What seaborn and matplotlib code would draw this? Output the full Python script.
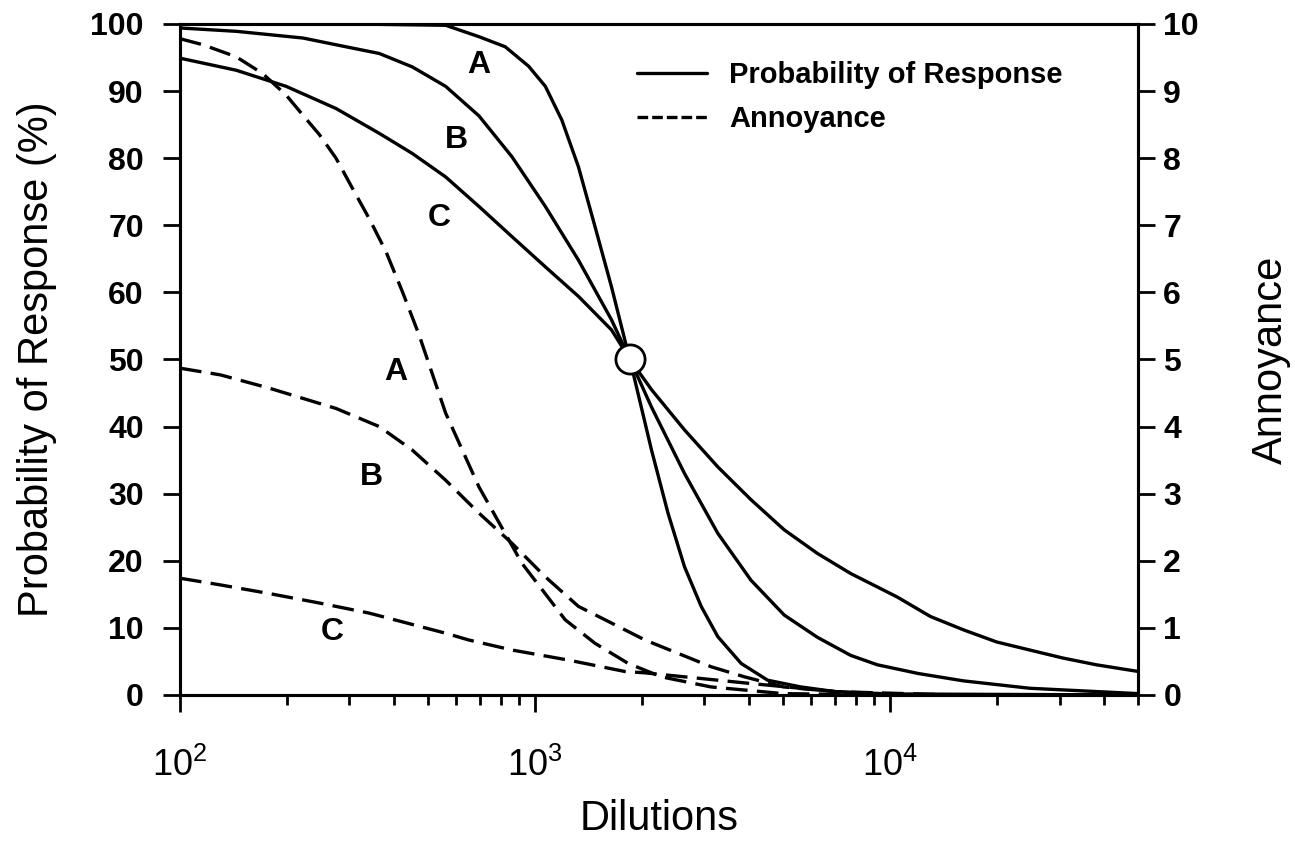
import numpy as np
import pandas as pd
import matplotlib
matplotlib.use("Agg")
import matplotlib.pyplot as plt
from matplotlib.lines import Line2D
from matplotlib.ticker import LogLocator, NullFormatter, FixedLocator
import seaborn as sns

# ---------------- data ----------------
resp_a_x = [100, 300, 560, 695, 824, 959, 1069, 1189, 1325, 1475, 1642, 1790, 1850,
            2128, 2368, 2636, 2937, 3270, 3805, 4518, 5600, 7000, 10000, 50000]
resp_a_y = [100, 100, 99.8, 98.1, 96.6, 93.7, 90.7, 85.7, 78.7, 69.8, 60.8, 52.9, 50,
            36.5, 27.1, 19.1, 13.2, 8.7, 4.7, 2.2, 1.2, 0.5, 0.15, 0]

resp_b_x = [100, 144, 222, 306, 364, 451, 560, 695, 861, 1069, 1325, 1642, 1850,
            2128, 2636, 3270, 4056, 5034, 6237, 7743, 9200, 12000, 16100, 24720, 50000]
resp_b_y = [99.4, 98.9, 97.9, 96.4, 95.6, 93.6, 90.7, 86.3, 80.2, 72.8, 64.8, 55.9, 50,
            42.9, 33.0, 24.1, 17.1, 11.9, 8.6, 5.9, 4.5, 3.2, 2.1, 1.0, 0.2]

resp_c_x = [100, 144, 199, 275, 364, 451, 560, 695, 861, 1069, 1325, 1642, 1850,
            2128, 2636, 3270, 4056, 5034, 6237, 7743, 9200, 10470, 12980, 16100, 19950,
            24720, 30690, 38070, 50000]
resp_c_y = [94.9, 93.1, 90.7, 87.4, 83.7, 80.7, 77.2, 72.8, 68.3, 63.8, 59.4, 54.4, 50,
            45.5, 39.5, 34.0, 29.1, 24.6, 21.1, 18.1, 16.1, 14.6, 11.7, 9.7, 7.9,
            6.7, 5.5, 4.5, 3.5]

ann_a_x = [100, 116, 144, 171, 199, 222, 247, 275, 306, 341, 380, 423, 471, 560, 695, 919,
           1216, 1475, 1829, 2269, 3128, 5000, 10000, 50000]
ann_a_y = [9.78, 9.69, 9.51, 9.26, 8.94, 8.64, 8.35, 8.00, 7.55, 7.10, 6.61, 6.01, 5.37, 4.20, 3.10, 1.96,
           1.12, 0.77, 0.47, 0.27, 0.12, 0.02, 0, 0]

ann_b_x = [100, 130, 179, 275, 364, 451, 560, 695, 861, 1069, 1325, 1644, 2038, 2528, 3135, 3890,
           5000, 7000, 10000, 50000]
ann_b_y = [4.87, 4.77, 4.57, 4.27, 4.00, 3.65, 3.20, 2.71, 2.26, 1.76, 1.32, 1.07, 0.82, 0.62, 0.42, 0.27,
           0.12, 0.05, 0, 0]

ann_c_x = [100, 130, 179, 247, 341, 560, 650, 861, 1241, 1790, 2036, 3890, 7000, 15000, 50000]
ann_c_y = [1.74, 1.64, 1.51, 1.37, 1.22, 0.92, 0.82, 0.67, 0.52, 0.35, 0.33, 0.18, 0.05, 0, 0]

midpoint_x = [1850]
midpoint_y = [50]

curve_names = ["A", "B", "C"]
resp_label_pos = [(694, 93.9), (602, 82.7), (536, 71.1)]
ann_label_pos = [(406, 4.81), (346, 3.25), (268, 0.94)]

left_ticks = list(range(0, 101, 10))
right_ticks = list(range(0, 11, 1))
x_major = [100, 1000, 10000]
x_major_labels = ["10$^2$", "10$^3$", "10$^4$"]

legend_labels = ["Probability of Response", "Annoyance"]

# ---------------- styling ----------------
sns.set_style("ticks")
plt.rcParams["font.family"] = ["Liberation Sans", "DejaVu Sans"]
plt.rcParams["mathtext.fontset"] = "custom"
plt.rcParams["mathtext.rm"] = "Liberation Sans"
plt.rcParams["mathtext.default"] = "regular"
plt.rcParams["text.color"] = "black"
plt.rcParams["axes.labelcolor"] = "black"
plt.rcParams["xtick.color"] = "black"
plt.rcParams["ytick.color"] = "black"

resp_df = pd.concat([
    pd.DataFrame({"dilution": xs, "value": ys, "curve": n})
    for n, xs, ys in zip(curve_names, [resp_a_x, resp_b_x, resp_c_x], [resp_a_y, resp_b_y, resp_c_y])
], ignore_index=True)
ann_df = pd.concat([
    pd.DataFrame({"dilution": xs, "value": ys, "curve": n})
    for n, xs, ys in zip(curve_names, [ann_a_x, ann_b_x, ann_c_x], [ann_a_y, ann_b_y, ann_c_y])
], ignore_index=True)

fig = plt.figure(figsize=(12.95, 8.43), dpi=100)
ax = fig.add_axes([0.139, 0.1756, 0.740, 0.796])
ax.set_xscale("log")
ax2 = ax.twinx()

LW = 2.4
sns.lineplot(data=resp_df, x="dilution", y="value", units="curve", estimator=None, sort=False,
             color="black", linewidth=LW, ax=ax, legend=False)
sns.lineplot(data=ann_df, x="dilution", y="value", units="curve", estimator=None, sort=False,
             color="black", linewidth=LW, ax=ax2, legend=False)
for ln in ax.get_lines():
    ln.set_solid_joinstyle("round")
for ln in ax2.get_lines():
    ln.set_dashes((6.5, 2.8))

ax.plot(midpoint_x, midpoint_y, "o", ms=21, mfc="white", mec="black", mew=2, zorder=10, clip_on=False)

for n, (lx, ly) in zip(curve_names, resp_label_pos):
    ax.text(lx, ly, n, fontsize=23, fontweight="bold", ha="center", va="center", color="black")
for n, (lx, ly) in zip(curve_names, ann_label_pos):
    ax2.text(lx, ly, n, fontsize=23, fontweight="bold", ha="center", va="center", color="black")

ax.set_xlim(100, 50000)
ax.set_ylim(0, 100)
ax2.set_ylim(0, 10)

ax.xaxis.set_major_locator(FixedLocator(x_major))
ax.set_xticklabels(x_major_labels, fontsize=26)
ax.xaxis.set_minor_locator(LogLocator(base=10, subs=np.arange(2, 10)))
ax.xaxis.set_minor_formatter(NullFormatter())

ax.set_yticks(left_ticks)
ax.set_yticklabels([str(t) for t in left_ticks], fontsize=23, fontweight="bold")
ax2.set_yticks(right_ticks)
ax2.set_yticklabels([str(t) for t in right_ticks], fontsize=23, fontweight="bold")

for a in (ax, ax2):
    for s in a.spines.values():
        s.set_visible(True)
        s.set_linewidth(2.2)
        s.set_color("black")
ax.tick_params(axis="x", which="major", direction="out", length=12, width=2, pad=26, colors="black")
ax.tick_params(axis="x", which="minor", direction="out", length=7, width=2, colors="black")
ax.tick_params(axis="y", which="major", direction="out", length=12, width=2, pad=14, colors="black")
ax2.tick_params(axis="y", which="major", direction="out", length=12, width=2, pad=6, colors="black")

ax.set_xlabel("Dilutions", fontsize=30, color="black")
ax.set_ylabel("Probability of Response (%)", fontsize=30, color="black")
ax2.set_ylabel("Annoyance", fontsize=30, color="black")
ax.xaxis.set_label_coords(0.5, -0.155)
ax.yaxis.set_label_coords(-0.128, 0.5)
ax2.yaxis.set_label_coords(1.118, 0.5)

handles = [Line2D([], [], color="black", lw=LW),
           Line2D([], [], color="black", lw=LW, dashes=(3.2, 1.2))]
leg = ax2.legend(handles, legend_labels, loc="upper left", bbox_to_anchor=(0.477, 0.945),
                 frameon=False, borderpad=0, borderaxespad=0, handlelength=2.4,
                 handletextpad=0.75, labelspacing=0.55, prop={"size": 21, "weight": "bold"},
                 labelcolor="black")

fig.savefig("out.png", dpi=100, facecolor="white")
